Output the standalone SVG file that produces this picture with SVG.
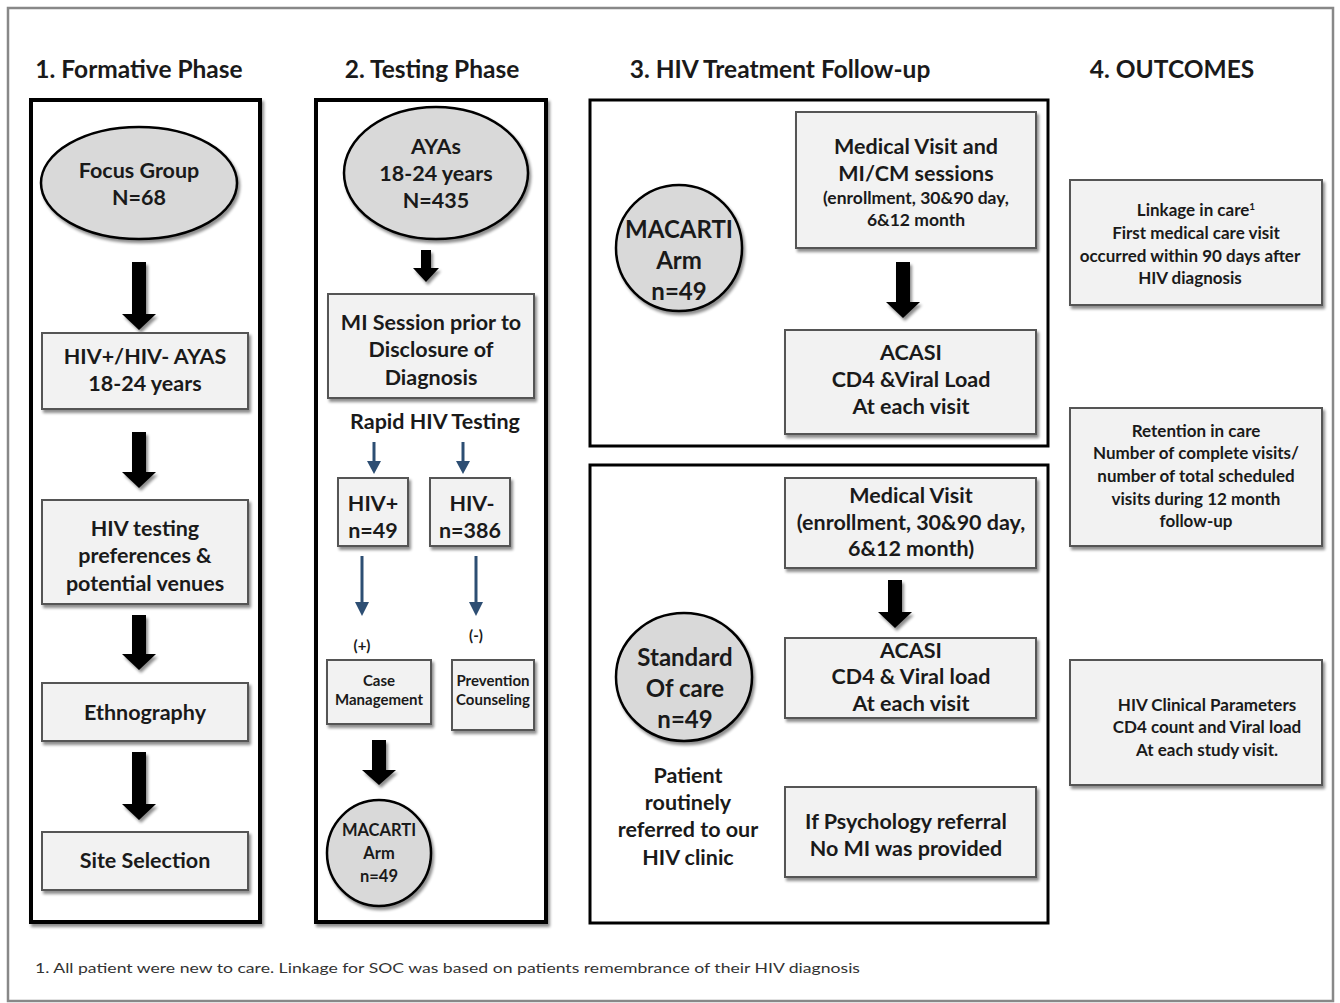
<svg xmlns="http://www.w3.org/2000/svg" width="1340" height="1003" viewBox="0 0 1340 1003">
<defs>
<filter id="sh" x="-10%" y="-10%" width="130%" height="130%">
<feGaussianBlur in="SourceAlpha" stdDeviation="1.5"/>
<feOffset dx="1.5" dy="2.5" result="b"/>
<feComponentTransfer><feFuncA type="linear" slope="0.45"/></feComponentTransfer>
<feMerge><feMergeNode/><feMergeNode in="SourceGraphic"/></feMerge>
</filter>
</defs>
<style>
text{font-family:Lato,"Open Sans","Liberation Sans",sans-serif;font-weight:bold;fill:#1a1a1a;text-anchor:middle}
.title{font-size:24.5px}
.t20{font-size:24px}
.t19{font-size:21.5px}
.t16{font-size:17.5px}
.t15{font-size:17px}
.t13{font-size:15px}
.t15s{font-size:16.5px}
.panel{fill:#fff;stroke:#000;stroke-width:4}
.panel3{fill:#fff;stroke:#000;stroke-width:3}
.box{fill:#f2f2f2;stroke:#555;stroke-width:2;filter:url(#sh)}
.ell{fill:#d9d9d9;stroke:#000;stroke-width:2.5;filter:url(#sh)}
.blk{fill:#000;filter:url(#sh)}
.bl{stroke:#2d4e73;stroke-width:3;fill:none}
.blh{fill:#2d4e73}
.foot{font-family:Lato,"Liberation Sans",sans-serif;font-weight:normal;font-size:14px;text-anchor:start;fill:#333}
</style>
<rect x="8" y="8" width="1325" height="993" fill="#fff" stroke="#888" stroke-width="2.5"/>

<text class="title" x="139" y="78">1. Formative Phase</text>
<text class="title" x="432" y="78">2. Testing Phase</text>
<text class="title" x="780" y="78">3. HIV Treatment Follow-up</text>
<text class="title" x="1172" y="78">4. OUTCOMES</text>

<rect class="panel" x="31" y="100" width="229" height="822" filter="url(#sh)"/>
<rect class="panel" x="316" y="100" width="230" height="822" filter="url(#sh)"/>
<rect class="panel3" x="590" y="100" width="458" height="346"/>
<rect class="panel3" x="590" y="465" width="458" height="458"/>

<g id="connectors">
<path class="blk" d="M132,262 H146 V314 H156 L139,330 L122,314 H132 Z"/>
<path class="blk" d="M132,432 H146 V472 H156 L139,488 L122,472 H132 Z"/>
<path class="blk" d="M132,615 H146 V654 H156 L139,670 L122,654 H132 Z"/>
<path class="blk" d="M132,752 H146 V804 H156 L139,820 L122,804 H132 Z"/>
<path class="blk" d="M421,250 H431 V268 H439 L426,282 L413,268 H421 Z"/>
<path class="blk" d="M372,740 H386 V770 H396 L379,785 L362,770 H372 Z"/>
<path class="blk" d="M896,262 H910 V302 H920 L903,318 L886,302 H896 Z"/>
<path class="blk" d="M888,580 H902 V612 H912 L895,628 L878,612 H888 Z"/>
<line class="bl" x1="374" y1="442" x2="374" y2="463"/><path class="blh" d="M367,461 H381 L374,474 Z"/>
<line class="bl" x1="463" y1="442" x2="463" y2="463"/><path class="blh" d="M456,461 H470 L463,474 Z"/>
<line class="bl" x1="362" y1="556" x2="362" y2="604"/><path class="blh" d="M355,602 H369 L362,616 Z"/>
<line class="bl" x1="476" y1="556" x2="476" y2="604"/><path class="blh" d="M469,602 H483 L476,616 Z"/>
</g>

<g id="focus-group"><ellipse class="ell" cx="139" cy="183" rx="98" ry="56"/><text class="t19" x="139" y="178">Focus Group</text><text class="t19" x="139" y="205">N=68</text></g>
<g id="ayas-hiv"><rect class="box" x="42" y="333" width="206" height="76"/><text class="t19" x="145" y="364">HIV+/HIV- AYAS</text><text class="t19" x="145" y="391">18-24 years</text></g>
<g id="testing-prefs"><rect class="box" x="42" y="500" width="206" height="104"/><text class="t19" x="145" y="536">HIV testing</text><text class="t19" x="145" y="563">preferences &amp;</text><text class="t19" x="145" y="591">potential venues</text></g>
<g id="ethnography"><rect class="box" x="42" y="683" width="206" height="58"/><text class="t19" x="145" y="720">Ethnography</text></g>
<g id="site-selection"><rect class="box" x="42" y="832" width="206" height="58"/><text class="t19" x="145" y="868">Site Selection</text></g>

<g id="ayas"><ellipse class="ell" cx="436" cy="173" rx="92" ry="66"/><text class="t19" x="436" y="154">AYAs</text><text class="t19" x="436" y="181">18-24 years</text><text class="t19" x="436" y="208">N=435</text></g>
<g id="mi-session"><rect class="box" x="328" y="294" width="206" height="104"/><text class="t19" x="431" y="330">MI Session prior to</text><text class="t19" x="431" y="357">Disclosure of</text><text class="t19" x="431" y="385">Diagnosis</text></g>
<g id="rapid"><text class="t19" x="435" y="429">Rapid HIV Testing</text></g>
<g id="hiv-pos"><rect class="box" x="338" y="478" width="70" height="68"/><text class="t19" x="373" y="511">HIV+</text><text class="t19" x="373" y="538">n=49</text></g>
<g id="hiv-neg"><rect class="box" x="430" y="478" width="80" height="68"/><text class="t19" x="472" y="511">HIV-</text><text class="t19" x="470" y="538">n=386</text></g>
<g id="plus"><text class="t13" x="362" y="651">(+)</text></g>
<g id="minus"><text class="t13" x="476" y="641">(-)</text></g>
<g id="case-mgmt"><rect class="box" x="327" y="660" width="104" height="64"/><text class="t13" x="379" y="686">Case</text><text class="t13" x="379" y="705">Management</text></g>
<g id="prevention"><rect class="box" x="452" y="660" width="82" height="70"/><text class="t13" x="493" y="686">Prevention</text><text class="t13" x="493" y="705">Counseling</text></g>
<g id="macarti-small"><ellipse class="ell" cx="379" cy="853" rx="52" ry="53"/><text class="t15s" x="379" y="836">MACARTI</text><text class="t15s" x="379" y="859">Arm</text><text class="t15s" x="379" y="882">n=49</text></g>

<g id="macarti-arm"><ellipse class="ell" cx="679" cy="248" rx="63" ry="63"/><text class="t20" x="679" y="238">MACARTI</text><text class="t20" x="679" y="269">Arm</text><text class="t20" x="679" y="300">n=49</text></g>
<g id="med-visit-1"><rect class="box" x="796" y="112" width="240" height="136"/><text class="t19" x="916" y="154">Medical Visit and</text><text class="t19" x="916" y="181">MI/CM sessions</text><text class="t16" x="916" y="204">(enrollment, 30&amp;90 day,</text><text class="t16" x="916" y="226">6&amp;12 month</text></g>
<g id="acasi-1"><rect class="box" x="785" y="330" width="251" height="104"/><text class="t19" x="911" y="360">ACASI</text><text class="t19" x="911" y="387">CD4 &amp;Viral Load</text><text class="t19" x="911" y="414">At each visit</text></g>

<g id="med-visit-2"><rect class="box" x="785" y="478" width="251" height="90"/><text class="t19" x="911" y="503">Medical Visit</text><text class="t19" x="911" y="530">(enrollment, 30&amp;90 day,</text><text class="t19" x="911" y="556">6&amp;12 month)</text></g>
<g id="acasi-2"><rect class="box" x="785" y="638" width="251" height="80"/><text class="t19" x="911" y="658">ACASI</text><text class="t19" x="911" y="684">CD4 &amp; Viral load</text><text class="t19" x="911" y="711">At each visit</text></g>
<g id="soc"><ellipse class="ell" cx="684" cy="677" rx="68" ry="64"/><text class="t20" x="685" y="666">Standard</text><text class="t20" x="685" y="697">Of care</text><text class="t20" x="685" y="728">n=49</text></g>
<g id="patient-note"><text class="t19" x="688" y="783">Patient</text><text class="t19" x="688" y="810">routinely</text><text class="t19" x="688" y="837">referred to our</text><text class="t19" x="688" y="865">HIV clinic</text></g>
<g id="psychology"><rect class="box" x="785" y="787" width="251" height="90"/><text class="t19" x="906" y="829">If Psychology referral</text><text class="t19" x="906" y="856">No MI was provided</text></g>

<g id="linkage"><rect class="box" x="1070" y="180" width="252" height="125"/><text class="t15" x="1196" y="216">Linkage in care<tspan font-size="10" dy="-6">1</tspan></text><text class="t15" x="1196" y="239">First medical care visit</text><text class="t15" x="1190" y="262">occurred within 90 days after</text><text class="t15" x="1190" y="284">HIV diagnosis</text></g>
<g id="retention"><rect class="box" x="1070" y="408" width="252" height="138"/><text class="t15" x="1196" y="437">Retention in care</text><text class="t15" x="1196" y="459">Number of complete visits/</text><text class="t15" x="1196" y="482">number of total scheduled</text><text class="t15" x="1196" y="505">visits during 12 month</text><text class="t15" x="1196" y="527">follow-up</text></g>
<g id="clinical"><rect class="box" x="1070" y="660" width="252" height="125"/><text class="t15" x="1207" y="711">HIV Clinical Parameters</text><text class="t15" x="1207" y="733">CD4 count and Viral load</text><text class="t15" x="1207" y="756">At each study visit.</text></g>

<text class="foot" x="35" y="973" textLength="825" lengthAdjust="spacingAndGlyphs">1. All patient were new to care. Linkage for SOC was based on patients remembrance of their HIV diagnosis</text>
</svg>
